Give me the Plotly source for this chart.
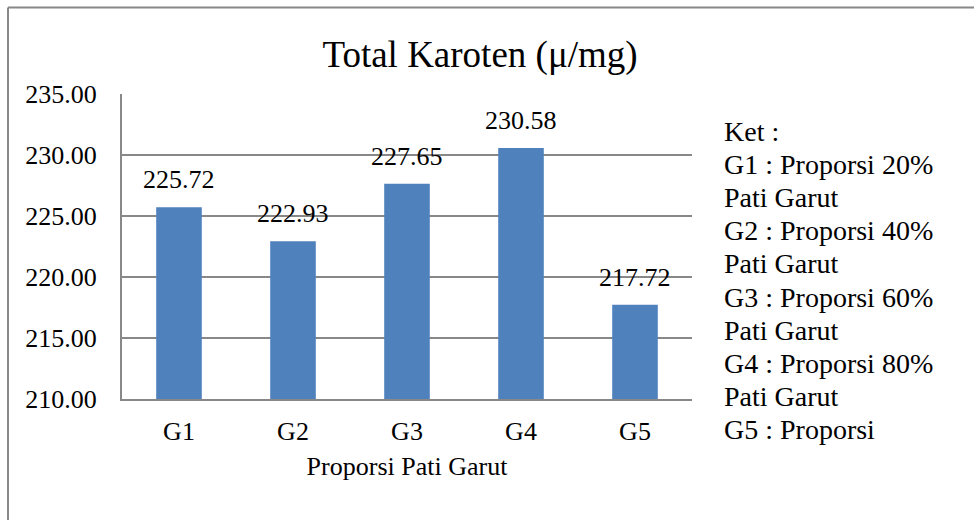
import plotly.graph_objects as go

categories = ["G1", "G2", "G3", "G4", "G5"]
values = [225.72, 222.93, 227.65, 230.58, 217.72]
value_labels = ["225.72", "222.93", "227.65", "230.58", "217.72"]
tick_values = [210, 215, 220, 225, 230, 235]
tick_labels = ["210.00", "215.00", "220.00", "225.00", "230.00", "235.00"]
legend_lines = [
    "Ket :",
    "G1 : Proporsi 20%",
    "Pati Garut",
    "G2 : Proporsi 40%",
    "Pati Garut",
    "G3 : Proporsi 60%",
    "Pati Garut",
    "G4 : Proporsi 80%",
    "Pati Garut",
    "G5 : Proporsi",
]

FONT = "Liberation Serif"
W, H = 974, 520
ML, MR, MT, MB = 122, 282, 94, 121
plot_w = W - ML - MR
plot_h = H - MT - MB

fig = go.Figure()
fig.add_trace(go.Bar(
    x=categories, y=values, width=0.4,
    marker=dict(color="#4F81BD", line=dict(width=0)),
    hoverinfo="skip",
))

for c, v, lab in zip(categories, values, value_labels):
    fig.add_annotation(x=c, y=v, text=lab, showarrow=False, yanchor="bottom",
                       yshift=11, font=dict(family=FONT, size=26, color="#000"))

# legend text block on the right
first_px = 131
step_px = 33.2
for i, line in enumerate(legend_lines):
    ypix = first_px + i * step_px
    fig.add_annotation(xref="paper", yref="paper",
                       x=(722 - ML) / plot_w, y=(H - MB - ypix) / plot_h,
                       text=line, showarrow=False, xanchor="left", yanchor="middle",
                       font=dict(family=FONT, size=28, color="#000"))

# chart border (top and left)
fig.add_shape(type="line", xref="paper", yref="paper",
              x0=(8 - ML) / plot_w, x1=(W - ML) / plot_w,
              y0=(H - MB - 7.5) / plot_h, y1=(H - MB - 7.5) / plot_h,
              line=dict(color="#888888", width=2))
fig.add_shape(type="line", xref="paper", yref="paper",
              x0=(8 - ML) / plot_w, x1=(8 - ML) / plot_w,
              y0=(H - MB - 7.5) / plot_h, y1=(H - MB - H) / plot_h,
              line=dict(color="#888888", width=2))

fig.update_layout(
    width=W, height=H,
    margin=dict(l=ML, r=MR, t=MT, b=MB),
    paper_bgcolor="white", plot_bgcolor="white",
    showlegend=False,
    title=dict(text="Total Karoten (μ/mg)", x=480 / W, xanchor="center",
               y=1 - 54 / H, yanchor="middle",
               font=dict(family=FONT, size=37, color="#000")),
    font=dict(family=FONT, size=26, color="#000"),
    xaxis=dict(
        title=dict(text="Proporsi Pati Garut", font=dict(family=FONT, size=26), standoff=12),
        showline=True, linecolor="#888888", linewidth=2,
        ticks="outside", ticklen=8, tickcolor="rgba(0,0,0,0)",
        tickfont=dict(family=FONT, size=26),
        showgrid=False,
    ),
    yaxis=dict(
        range=[210, 235], tickvals=tick_values, ticktext=tick_labels,
        showline=True, linecolor="#888888", linewidth=2, mirror=False,
        showgrid=True, gridcolor="#888888", gridwidth=2,
        ticks="outside", ticklen=18, tickcolor="rgba(0,0,0,0)",
        tickfont=dict(family=FONT, size=26),
        zeroline=False,
    ),
)

fig.write_html("out.html", config={"displayModeBar": False},
               post_script="document.body.style.margin='0';document.body.style.overflow='hidden';")
